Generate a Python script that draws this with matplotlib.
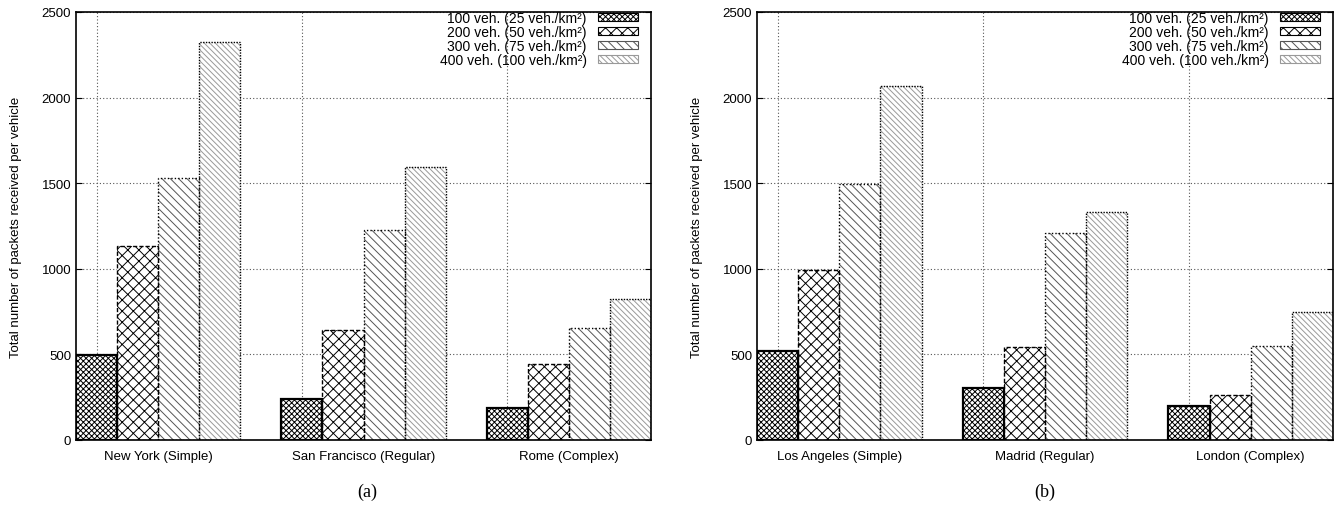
import matplotlib.pyplot as plt
import numpy as np

plt.rcParams['font.family'] = ['Liberation Sans', 'DejaVu Sans']
plt.rcParams['hatch.linewidth'] = 0.7

# data
cities_a = ['New York (Simple)', 'San Francisco (Regular)', 'Rome (Complex)']
cities_b = ['Los Angeles (Simple)', 'Madrid (Regular)', 'London (Complex)']
series = ['100 veh. (25 veh./km²)', '200 veh. (50 veh./km²)',
          '300 veh. (75 veh./km²)', '400 veh. (100 veh./km²)']
veh100_a = [496, 240, 187]
veh200_a = [1133, 643, 444]
veh300_a = [1530, 1227, 654]
veh400_a = [2325, 1593, 824]
veh100_b = [520, 304, 199]
veh200_b = [993, 545, 263]
veh300_b = [1495, 1207, 549]
veh400_b = [2068, 1334, 746]

styles = [
    dict(hatch='xxxxxx', edgecolor='black', ls='-', lw=1.6, hcol='black'),
    dict(hatch='xxx', edgecolor='black', ls=(0, (3, 1.5)), lw=1.0, hcol='black'),
    dict(hatch='\\\\\\\\', edgecolor='black', ls=(0, (1, 1.5)), lw=1.0, hcol='#555555'),
    dict(hatch='\\\\\\\\\\\\', edgecolor='black', ls=(0, (1, 1)), lw=1.0, hcol='#999999'),
]

fig = plt.figure(figsize=(13.35, 5.06), dpi=100)
ax_a = fig.add_axes([76 / 1335, 65 / 506, 575 / 1335, 428 / 506])
ax_b = fig.add_axes([757 / 1335, 65 / 506, 576 / 1335, 428 / 506])


def draw(ax, cities, data):
    x = np.arange(len(cities)) * 5
    for k, vals in enumerate(data):
        st = styles[k]
        ax.bar(x + k + 0.5, vals, width=1.0, color='white', edgecolor=st['hcol'],
               hatch=st['hatch'], linewidth=0, zorder=2)
        ax.bar(x + k + 0.5, vals, width=1.0, fill=False, edgecolor=st['edgecolor'],
               linestyle=st['ls'], linewidth=st['lw'], zorder=3)
    ax.set_xlim(0, 14)
    ax.set_ylim(0, 2500)
    ax.set_yticks(range(0, 2501, 500))
    ax.set_xticks(x + 2)
    ax.set_xticklabels(cities, fontsize=9.5)
    ax.set_xticks(x + 0.5, minor=True)
    ax.tick_params(axis='x', which='both', length=0, pad=7)
    ax.tick_params(axis='y', direction='in', right=True, length=4, labelsize=9.5)
    ax.grid(axis='y', ls=(0, (1, 2)), color='#555555', lw=0.8, zorder=1)
    ax.grid(axis='x', which='minor', ls=(0, (1, 2)), color='#555555', lw=0.8, zorder=1)
    ax.grid(axis='x', which='major', visible=False)
    ax.set_ylabel('Total number of packets received per vehicle', fontsize=9.5, labelpad=14)
    for s in ax.spines.values():
        s.set_linewidth(1.2)

    handles = []
    for st in styles:
        handles.append(plt.Rectangle((0, 0), 1, 1, facecolor='white', edgecolor=st['hcol'],
                                     hatch=st['hatch'], linewidth=0.8))
    ax.legend(handles, series, loc='upper right', bbox_to_anchor=(0.985, 1.012),
              frameon=False, markerfirst=False,
              fontsize=10, handlelength=2.9, handleheight=0.5, labelspacing=0.0,
              borderaxespad=0.0, borderpad=0.3, handletextpad=0.8)


draw(ax_a, cities_a, [veh100_a, veh200_a, veh300_a, veh400_a])
draw(ax_b, cities_b, [veh100_b, veh200_b, veh300_b, veh400_b])

fig.text(367 / 1335, (506 - 492) / 506, '(a)', ha='center', va='center',
         fontsize=13, family='Liberation Serif')
fig.text(1045 / 1335, (506 - 492) / 506, '(b)', ha='center', va='center',
         fontsize=13, family='Liberation Serif')

plt.savefig('out.png', dpi=100)
